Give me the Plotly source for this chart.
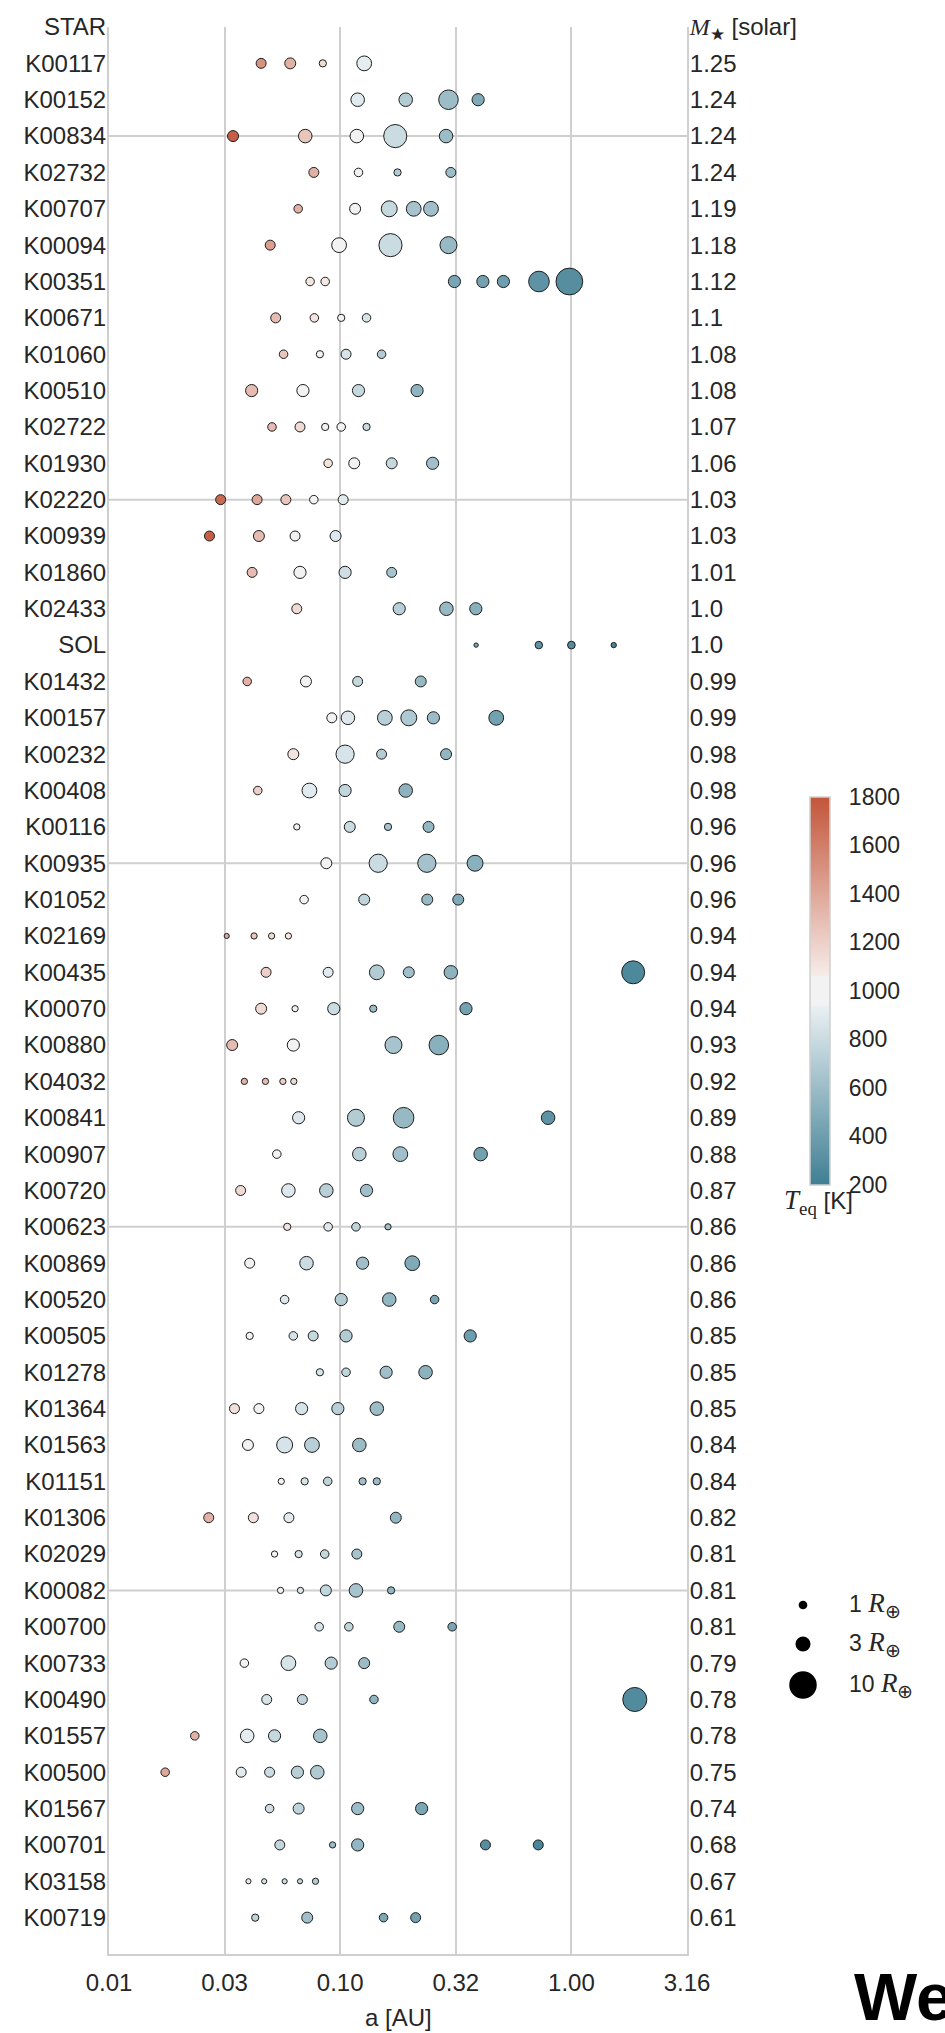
import math
import plotly.graph_objects as go

# Host stars, ordered by stellar mass (top = most massive)
STARS = ["K00117", "K00152", "K00834", "K02732", "K00707", "K00094", "K00351", "K00671",
         "K01060", "K00510", "K02722", "K01930", "K02220", "K00939", "K01860", "K02433",
         "SOL", "K01432", "K00157", "K00232", "K00408", "K00116", "K00935", "K01052",
         "K02169", "K00435", "K00070", "K00880", "K04032", "K00841", "K00907", "K00720",
         "K00623", "K00869", "K00520", "K00505", "K01278", "K01364", "K01563", "K01151",
         "K01306", "K02029", "K00082", "K00700", "K00733", "K00490", "K01557", "K00500",
         "K01567", "K00701", "K03158", "K00719"]

STELLAR_MASS = [1.25, 1.24, 1.24, 1.24, 1.19, 1.18, 1.12, 1.1, 1.08, 1.08, 1.07, 1.06,
                1.03, 1.03, 1.01, 1.0, 1.0, 0.99, 0.99, 0.98, 0.98, 0.96, 0.96, 0.96,
                0.94, 0.94, 0.94, 0.93, 0.92, 0.89, 0.88, 0.87, 0.86, 0.86, 0.86, 0.85,
                0.85, 0.85, 0.84, 0.84, 0.82, 0.81, 0.81, 0.81, 0.79, 0.78, 0.78, 0.75,
                0.74, 0.68, 0.67, 0.61]

# Semi-major axis of each planet [AU], one list per star
SEMI_MAJOR_AU = [
    [0.0455, 0.0608, 0.0841, 0.127],
    [0.119, 0.192, 0.294, 0.395],
    [0.0344, 0.0706, 0.118, 0.173, 0.287],
    [0.0769, 0.120, 0.177, 0.301],
    [0.0658, 0.116, 0.163, 0.208, 0.247],
    [0.0498, 0.0989, 0.165, 0.294],
    [0.0741, 0.0861, 0.312, 0.414, 0.508, 0.724, 0.980],
    [0.0526, 0.0773, 0.101, 0.130],
    [0.0569, 0.0817, 0.106, 0.151],
    [0.0414, 0.0690, 0.120, 0.215],
    [0.0507, 0.0670, 0.0861, 0.101, 0.130],
    [0.0887, 0.115, 0.167, 0.251],
    [0.0304, 0.0437, 0.0582, 0.0769, 0.103],
    [0.0272, 0.0445, 0.0638, 0.0955],
    [0.0416, 0.0670, 0.105, 0.167],
    [0.0649, 0.180, 0.288, 0.386],
    [0.387, 0.723, 1.0, 1.524],
    [0.0396, 0.0711, 0.119, 0.223],
    [0.0920, 0.108, 0.156, 0.198, 0.253, 0.473],
    [0.0627, 0.105, 0.151, 0.287],
    [0.0440, 0.0736, 0.105, 0.192],
    [0.0649, 0.110, 0.161, 0.241],
    [0.0871, 0.146, 0.237, 0.383],
    [0.0698, 0.127, 0.238, 0.324],
    [0.0323, 0.0424, 0.0505, 0.0597],
    [0.0478, 0.0887, 0.144, 0.198, 0.301, 1.85],
    [0.0455, 0.0638, 0.0938, 0.139, 0.350],
    [0.0341, 0.0627, 0.170, 0.267],
    [0.0385, 0.0475, 0.0565, 0.0630],
    [0.0661, 0.117, 0.188, 0.793],
    [0.0532, 0.121, 0.182, 0.405],
    [0.0371, 0.0597, 0.0871, 0.130],
    [0.0590, 0.0887, 0.117, 0.161],
    [0.0406, 0.0715, 0.125, 0.205],
    [0.0575, 0.101, 0.163, 0.256],
    [0.0406, 0.0627, 0.0764, 0.106, 0.365],
    [0.0817, 0.106, 0.158, 0.234],
    [0.0349, 0.0445, 0.0681, 0.0977, 0.144],
    [0.0399, 0.0575, 0.0755, 0.121],
    [0.0556, 0.0702, 0.0883, 0.125, 0.144],
    [0.0270, 0.0421, 0.0600, 0.174],
    [0.0520, 0.0661, 0.0857, 0.118],
    [0.0552, 0.0673, 0.0867, 0.117, 0.166],
    [0.0811, 0.109, 0.180, 0.305],
    [0.0385, 0.0597, 0.0914, 0.127],
    [0.0481, 0.0686, 0.140, 1.88],
    [0.0235, 0.0396, 0.0520, 0.0820],
    [0.0175, 0.0373, 0.0495, 0.0653, 0.0796],
    [0.0495, 0.0661, 0.119, 0.225],
    [0.0548, 0.0927, 0.119, 0.425, 0.719],
    [0.0401, 0.0469, 0.0575, 0.0670, 0.0782],
    [0.0429, 0.0720, 0.154, 0.212],
]

# Equilibrium temperature [K]
T_EQ_K = [
    [1500, 1350, 1150, 920],
    [900, 700, 600, 480],
    [1750, 1250, 1000, 800, 600],
    [1350, 1000, 700, 600],
    [1350, 980, 780, 650, 620],
    [1450, 1000, 800, 580],
    [1100, 1080, 450, 420, 400, 330, 300],
    [1300, 1100, 980, 850],
    [1250, 1000, 850, 700],
    [1300, 980, 780, 550],
    [1300, 1150, 1000, 950, 800],
    [1100, 980, 780, 620],
    [1700, 1400, 1250, 1030, 900],
    [1750, 1300, 1020, 880],
    [1300, 1000, 820, 650],
    [1150, 720, 580, 520],
    [450, 330, 280, 230],
    [1350, 990, 780, 570],
    [950, 880, 720, 680, 600, 420],
    [1100, 850, 700, 560],
    [1200, 900, 760, 540],
    [1000, 800, 650, 560],
    [980, 800, 640, 520],
    [1000, 750, 580, 480],
    [1400, 1250, 1150, 1080],
    [1200, 900, 700, 620, 540, 260],
    [1150, 1000, 800, 600, 430],
    [1300, 960, 650, 520],
    [1350, 1300, 1200, 1150],
    [880, 700, 580, 330],
    [1020, 720, 620, 420],
    [1150, 880, 720, 620],
    [1100, 880, 750, 620],
    [1020, 800, 620, 480],
    [880, 700, 560, 450],
    [1000, 850, 780, 700, 400],
    [850, 760, 620, 530],
    [1120, 1020, 850, 720, 600],
    [980, 850, 720, 600],
    [950, 850, 750, 620, 600],
    [1350, 1120, 900, 560],
    [950, 850, 780, 650],
    [950, 880, 760, 650, 560],
    [860, 760, 580, 450],
    [1000, 850, 700, 600],
    [850, 750, 550, 280],
    [1350, 920, 780, 650],
    [1400, 900, 800, 720, 680],
    [820, 750, 600, 460],
    [770, 600, 560, 300, 250],
    [900, 850, 800, 760, 700],
    [750, 620, 470, 420],
]

# Planet radius [Earth radii]
R_PLANET = [
    [1.6, 1.9, 0.9, 3.3],
    [2.8, 2.8, 5.6, 2.3],
    [1.9, 2.8, 2.8, 7.7, 2.8],
    [1.6, 1.2, 0.9, 1.6],
    [1.2, 1.9, 3.8, 3.3, 3.3],
    [1.6, 3.3, 7.7, 4.3],
    [1.2, 1.2, 2.3, 2.3, 2.3, 6.2, 10.2],
    [1.6, 1.2, 0.9, 1.2],
    [1.2, 0.9, 1.6, 1.2],
    [2.3, 2.3, 2.3, 2.3],
    [1.2, 1.6, 0.9, 1.2, 0.9],
    [1.2, 1.9, 1.9, 2.3],
    [1.6, 1.6, 1.6, 1.2, 1.6],
    [1.6, 1.9, 1.6, 1.9],
    [1.6, 2.3, 2.3, 1.6],
    [1.6, 2.3, 2.8, 2.3],
    [0.38, 0.95, 1.0, 0.53],
    [1.2, 1.9, 1.6, 1.9],
    [1.6, 2.8, 3.3, 3.8, 2.3, 3.3],
    [1.9, 4.9, 1.6, 1.9],
    [1.2, 3.3, 2.3, 2.8],
    [0.7, 1.9, 0.9, 1.9],
    [1.9, 4.9, 4.9, 3.8],
    [1.2, 1.9, 1.9, 1.9],
    [0.5, 0.7, 0.7, 0.7],
    [1.6, 1.6, 3.3, 1.9, 2.8, 7.6],
    [1.9, 0.7, 2.3, 0.9, 2.3],
    [1.9, 2.3, 4.3, 5.6],
    [0.7, 0.7, 0.7, 0.7],
    [2.3, 4.3, 6.2, 2.8],
    [1.2, 2.8, 3.3, 2.8],
    [1.6, 2.8, 2.8, 2.3],
    [0.9, 1.2, 1.2, 0.7],
    [1.6, 2.8, 2.3, 3.3],
    [1.2, 2.3, 2.8, 1.2],
    [0.9, 1.2, 1.6, 2.3, 2.3],
    [0.9, 1.2, 2.3, 2.8],
    [1.6, 1.6, 2.3, 2.3, 2.8],
    [1.9, 3.8, 3.3, 2.8],
    [0.7, 0.9, 1.2, 0.9, 0.9],
    [1.6, 1.6, 1.6, 1.9],
    [0.7, 0.9, 1.2, 1.6],
    [0.7, 0.7, 1.9, 2.8, 0.9],
    [1.2, 1.2, 1.9, 1.2],
    [1.2, 3.3, 2.3, 1.9],
    [1.6, 1.6, 1.2, 8.3],
    [1.2, 2.8, 2.3, 2.8],
    [1.2, 1.6, 1.6, 2.3, 2.8],
    [1.2, 1.9, 2.3, 2.3],
    [1.6, 0.7, 2.3, 1.6, 1.6],
    [0.5, 0.5, 0.5, 0.5, 0.7],
    [0.9, 1.9, 1.2, 1.6],
]

X_TICK_EXP = [-2.0, -1.5, -1.0, -0.5, 0.0, 0.5]
X_TICK_TEXT = ["0.01", "0.03", "0.10", "0.32", "1.00", "3.16"]
TEQ_TICKS = [200, 400, 600, 800, 1000, 1200, 1400, 1600, 1800]
LEGEND_RADII = [1, 3, 10]

# ---------------------------------------------------------------- styling
W, H = 945, 2033
ML, MR, MT, MB = 109, 258, 27, 79
PW, PH = W - ML - MR, H - MT - MB
GRID = "#cfcfcf"
TXT = "#262626"
SANS = "Liberation Sans, Arial, Helvetica, sans-serif"
SERIF = "Liberation Serif"


def px_x(px):
    return (px - ML) / PW


def px_y(py):
    return (H - MB - py) / PH


def marker_px(r):
    # marker diameter grows with the square root of the planet radius
    return 8.7 * math.sqrt(r)


TEQ_SCALE = [
    [0.0, "#3f7f93"],
    [0.461, "rgb(234,240,243)"],
    [0.461, "#f2f2f2"],
    [0.539, "#f2f2f2"],
    [0.539, "rgb(246,236,233)"],
    [1.0, "#c3553a"],
]

xs, ys, cs, ss, hover = [], [], [], [], []
for row, (name, a_list, t_list, r_list) in enumerate(zip(STARS, SEMI_MAJOR_AU, T_EQ_K, R_PLANET), start=1):
    for a, t, r in zip(a_list, t_list, r_list):
        xs.append(a)
        ys.append(row)
        cs.append(t)
        ss.append(marker_px(r) - 1)
        hover.append(f"{name}<br>a={a} AU<br>Teq={t} K<br>R={r} R⊕")

n_rows = len(STARS)
row_vals = list(range(n_rows + 1))

fig = go.Figure()
fig.add_trace(go.Scatter(
    x=xs, y=ys, mode="markers", text=hover, hoverinfo="text", showlegend=False,
    marker=dict(
        size=ss, color=cs, colorscale=TEQ_SCALE, cmin=200, cmax=1800,
        line=dict(color="#1e1e1e", width=1), opacity=1,
        colorbar=dict(
            x=px_x(810), xanchor="left", xpad=0, y=0.5, yanchor="middle", ypad=0,
            len=388, lenmode="pixels", thickness=20,
            outlinecolor=GRID, outlinewidth=1.5,
            tickvals=TEQ_TICKS, ticks="outside", ticklen=14, tickcolor="rgba(0,0,0,0)",
            tickfont=dict(size=23, color=TXT, family=SANS),
        ),
    ),
))

# stellar masses on the right-hand axis
fig.add_trace(go.Scatter(
    x=[None] * n_rows, y=list(range(1, n_rows + 1)), yaxis="y2", mode="markers",
    showlegend=False, hoverinfo="skip",
))

mass_title = f"<span style='font-family:{SERIF}'><i>M</i><sub>★</sub></span> [solar]"

fig.update_layout(
    width=W, height=H, margin=dict(l=ML, r=MR, t=MT, b=MB, pad=0),
    paper_bgcolor="white", plot_bgcolor="white",
    font=dict(family=SANS, size=24, color=TXT),
    xaxis=dict(
        type="log", range=[X_TICK_EXP[0], X_TICK_EXP[-1]],
        tickvals=[10 ** e for e in X_TICK_EXP], ticktext=X_TICK_TEXT,
        showgrid=True, gridcolor=GRID, gridwidth=2,
        showline=True, linecolor=GRID, linewidth=2, zeroline=False,
        ticks="outside", ticklen=6, tickcolor="rgba(0,0,0,0)",
        tickfont=dict(size=24, color=TXT),
    ),
    yaxis=dict(
        range=[n_rows + 1, 0], tickvals=row_vals, ticktext=["STAR"] + STARS,
        showgrid=False, zeroline=False, showline=True, linecolor=GRID, linewidth=2,
        ticks="", ticklabelstandoff=-4, tickfont=dict(size=24, color=TXT),
    ),
    yaxis2=dict(
        overlaying="y", side="right", range=[n_rows + 1, 0], tickvals=row_vals,
        ticktext=[mass_title] + [str(m) for m in STELLAR_MASS],
        showgrid=False, zeroline=False, showline=True, linecolor=GRID, linewidth=2,
        ticks="", ticklabelstandoff=-4, tickfont=dict(size=24, color=TXT),
    ),
)

# horizontal guide every tenth star
for y in range(3, n_rows + 1, 10):
    fig.add_shape(type="line", xref="paper", x0=0, x1=1, yref="y", y0=y, y1=y,
                  line=dict(color=GRID, width=2), layer="below")

# planet size key
key_y = [1605, 1644, 1685]
for r, py in zip(LEGEND_RADII, key_y):
    d = marker_px(r)
    fig.add_shape(type="circle", xref="paper", yref="paper",
                  xsizemode="pixel", ysizemode="pixel",
                  xanchor=px_x(803), yanchor=px_y(py),
                  x0=-d / 2, x1=d / 2, y0=-d / 2, y1=d / 2,
                  fillcolor="black", line=dict(width=0))
    fig.add_annotation(
        x=px_x(847), y=px_y(py), xref="paper", yref="paper", xanchor="left", yanchor="middle",
        showarrow=False, font=dict(size=23, color=TXT),
        text=f"{r} <span style='font-family:{SERIF};font-size:27px'><i>R</i><sub>⊕</sub></span>",
    )

fig.add_annotation(
    x=px_x(818), y=px_y(1202), xref="paper", yref="paper", xanchor="center", yanchor="middle",
    showarrow=False, font=dict(size=24, color=TXT),
    text=f"<span style='font-family:{SERIF};font-size:27px'><i>T</i><sub>eq</sub></span> [K]",
)

fig.add_annotation(
    x=0.5, y=px_y(2017), xref="paper", yref="paper", xanchor="center", yanchor="middle",
    showarrow=False, font=dict(size=24, color=TXT), text="a [AU]",
)

fig.add_annotation(
    x=px_x(852), y=px_y(1996), xref="paper", yref="paper", xanchor="left", yanchor="middle",
    showarrow=False, font=dict(size=67, color="black", family="Liberation Sans"),
    text="<b>We</b>",
)

fig.write_html("out.html")
